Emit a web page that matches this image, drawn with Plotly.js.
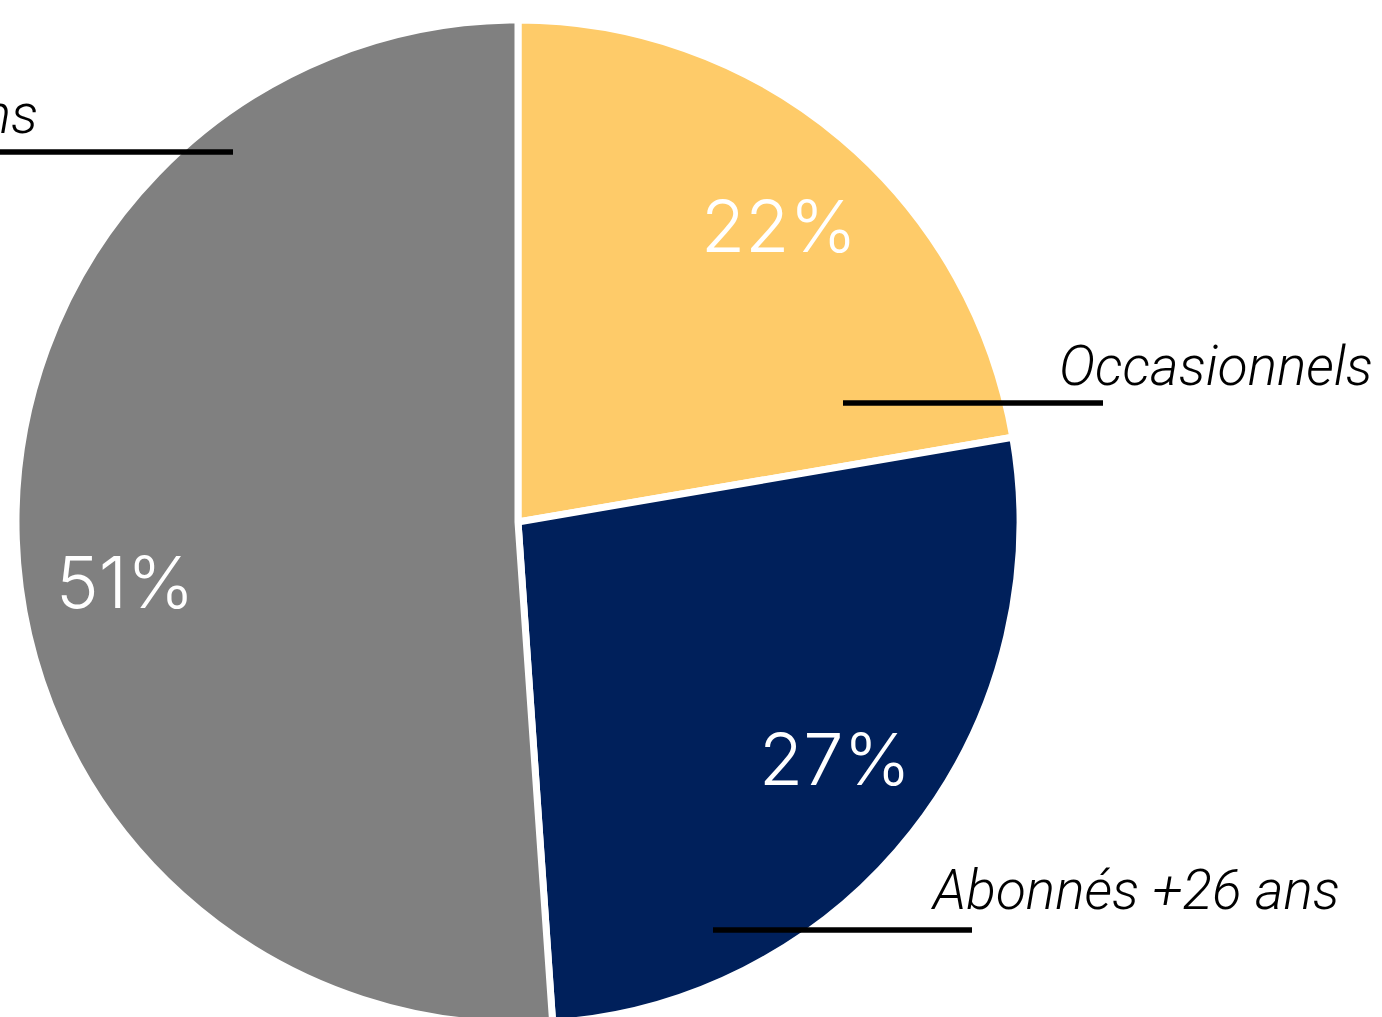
<!DOCTYPE html>
<html>
<head>
<meta charset="utf-8">
<script src="https://cdn.plot.ly/plotly-3.0.1.min.js"></script>
<style>
html,body{margin:0;padding:0;overflow:hidden;background:#fff;}
#chart{width:1382px;height:1030px;}
</style>
</head>
<body>
<div id="chart"></div>
<script>
const categories = ["Occasionnels", "Abonnés +26 ans", "Abonnés -26 ans"];
const values = [22.3, 26.6, 51.1];
const pctLabels = ["22%", "27%", "51%"];
const colors = ["#FECB69", "#00205B", "#808080"];

const W = 1382, H = 1030;
const px = x => x / W;
const py = y => 1 - y / H;

// label anchor positions (pixels) for category names and percentages
const pctPos = [[779, 226], [835, 758], [125, 581]];
const namePos = [[1375, 366], [1342, 890], [40, 114]];
const linePos = [[843, 1103, 403], [713, 972, 930], [0, 233, 152]];

const trace = {
  type: "pie",
  labels: categories,
  values: values,
  sort: false,
  direction: "clockwise",
  rotation: 0,
  textinfo: "none",
  hoverinfo: "label+percent",
  marker: { colors: colors, line: { color: "#ffffff", width: 7 } },
  domain: { x: [px(16), px(1020)], y: [py(1024), py(20)] },
  showlegend: false
};

const annotations = [];
categories.forEach((c, i) => {
  annotations.push({
    xref: "paper", yref: "paper",
    x: px(pctPos[i][0]), y: py(pctPos[i][1]),
    xanchor: "center", yanchor: "middle",
    text: pctLabels[i], showarrow: false,
    font: { family: "Inter", size: 72, color: "#ffffff", weight: 300 }
  });
  annotations.push({
    xref: "paper", yref: "paper",
    x: px(namePos[i][0]), y: py(namePos[i][1]),
    xanchor: "right", yanchor: "middle",
    text: c, showarrow: false,
    font: { family: "Roboto", size: 55, color: "#000000", style: "italic", weight: 300 }
  });
});

const shapes = linePos.map(l => ({
  type: "line", xref: "paper", yref: "paper",
  x0: px(l[0]), x1: px(l[1]), y0: py(l[2]), y1: py(l[2]),
  line: { color: "#000000", width: 5.5 }
}));

Plotly.newPlot("chart", [trace], {
  width: W, height: H,
  margin: { l: 0, r: 0, t: 0, b: 0 },
  paper_bgcolor: "#ffffff",
  plot_bgcolor: "#ffffff",
  annotations: annotations,
  shapes: shapes
}, { displayModeBar: false, staticPlot: true });
</script>
</body>
</html>
